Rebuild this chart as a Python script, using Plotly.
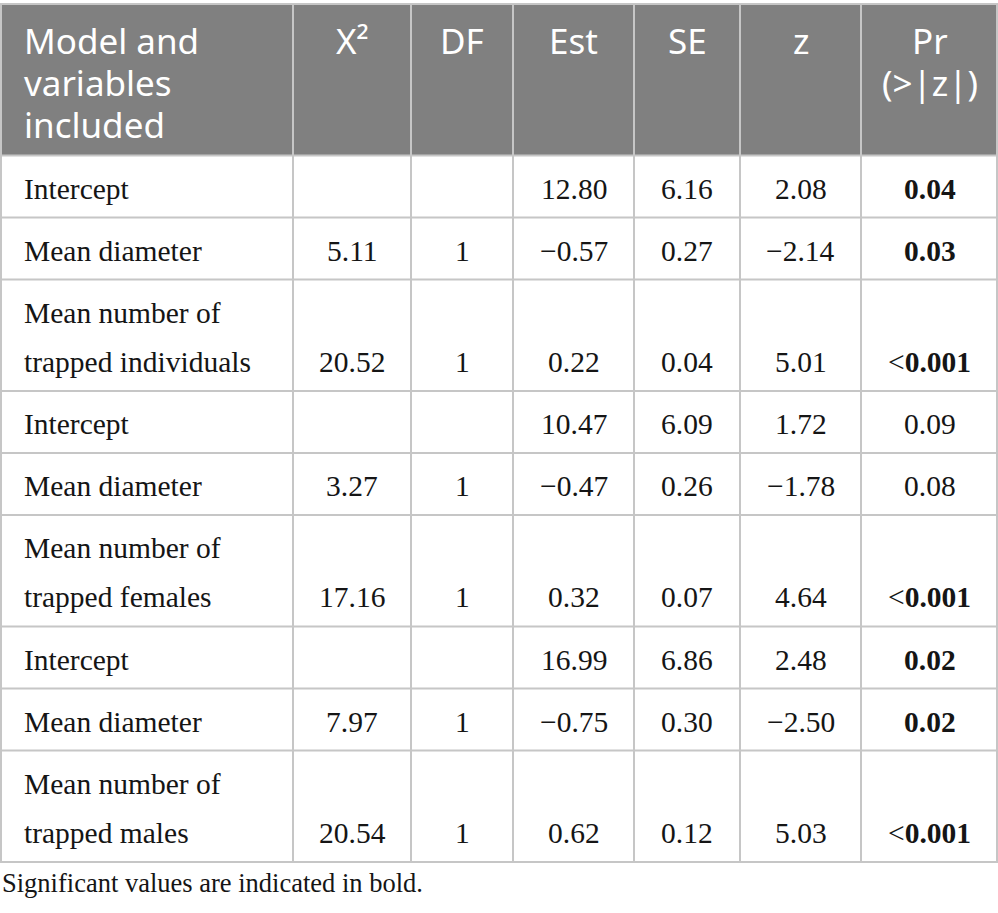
import plotly.graph_objects as go

# ---------------- data ----------------
header = ["Model and\nvariables\nincluded", "X\u00b2", "DF", "Est", "SE", "z", "Pr\n(>|z|)"]
variables = [
    "Intercept", "Mean diameter", "Mean number of\ntrapped individuals",
    "Intercept", "Mean diameter", "Mean number of\ntrapped females",
    "Intercept", "Mean diameter", "Mean number of\ntrapped males",
]
chi2 = [None, 5.11, 20.52, None, 3.27, 17.16, None, 7.97, 20.54]
df_vals = [None, 1, 1, None, 1, 1, None, 1, 1]
est = [12.80, -0.57, 0.22, 10.47, -0.47, 0.32, 16.99, -0.75, 0.62]
se = [6.16, 0.27, 0.04, 6.09, 0.26, 0.07, 6.86, 0.30, 0.12]
zval = [2.08, -2.14, 5.01, 1.72, -1.78, 4.64, 2.48, -2.50, 5.03]
pr = ["0.04", "0.03", "<0.001", "0.09", "0.08", "<0.001", "0.02", "0.02", "<0.001"]
significant = [True, True, True, False, False, True, True, True, True]
footnote = "Significant values are indicated in bold."

# ---------------- layout constants ----------------
W, H = 998, 913
col_edges = [0, 293, 411, 513, 634, 740, 861, 998]
table_top = 4
header_h = 151.5
single_h = 62
double_h = 111.5
line_gap = 49
hdr_line_gap = 42
hdr_first = 36
left_pad = 22
HEADER_BG = "#808080"
GRID = "#c6c6c6"
TEXT = "#151515"
BODY_FONT = "Liberation Serif"
HEAD_FONT = "Noto Sans"
BODY_SIZE = 29.5
FOOT_SIZE = 26.5
HEAD_SIZE = 35


def fmt(v, nd=2):
    if v is None:
        return ""
    if isinstance(v, int):
        return str(v)
    s = f"{v:.{nd}f}"
    return s.replace("-", "\u2212")


def fmt_pr(s, bold):
    if not bold:
        return s.replace("<", "&lt;")
    if s.startswith("<"):
        return "&lt;<b>" + s[1:] + "</b>"
    return "<b>" + s + "</b>"


columns = [
    variables,
    [fmt(v) for v in chi2],
    [fmt(v) for v in df_vals],
    [fmt(v) for v in est],
    [fmt(v) for v in se],
    [fmt(v) for v in zval],
    [fmt_pr(p, b) for p, b in zip(pr, significant)],
]

# row geometry
row_heights = [double_h if "\n" in v else single_h for v in variables]
row_tops = []
y = table_top + header_h
for h in row_heights:
    row_tops.append(y)
    y += h
table_bottom = y

fig = go.Figure()
fig.add_trace(go.Scatter(x=[0], y=[0], mode="markers", marker=dict(opacity=0),
                         hoverinfo="skip", showlegend=False))

shapes = []
# header background
shapes.append(dict(type="rect", xref="x", yref="y", x0=0, x1=W, y0=table_top,
                   y1=table_top + header_h, fillcolor=HEADER_BG, line=dict(width=0), layer="below"))
# horizontal lines
hlines = [table_top, table_top + header_h] + [t + h for t, h in zip(row_tops, row_heights)]
for yy in hlines:
    shapes.append(dict(type="line", xref="x", yref="y", x0=0, x1=W, y0=yy, y1=yy,
                       line=dict(color=GRID, width=2)))
# vertical lines
for xx in col_edges:
    xx2 = min(max(xx, 1), W - 1)
    shapes.append(dict(type="line", xref="x", yref="y", x0=xx2, x1=xx2, y0=table_top, y1=table_bottom,
                       line=dict(color=GRID, width=2)))

annotations = []


def add_text(txt, x, y, xanchor, family, size, color):
    annotations.append(dict(text=txt, x=x, y=y, xref="x", yref="y", xanchor=xanchor,
                            yanchor="middle", showarrow=False,
                            font=dict(family=family, size=size, color=color)))


# header texts
for ci, h in enumerate(header):
    lines = h.split("\n")
    for li, ln in enumerate(lines):
        yy = table_top + hdr_first + li * hdr_line_gap
        if ci == 0:
            add_text(ln, left_pad, yy, "left", HEAD_FONT, HEAD_SIZE, "white")
        else:
            add_text(ln, (col_edges[ci] + col_edges[ci + 1]) / 2, yy, "center", HEAD_FONT, HEAD_SIZE, "white")

# body texts
for ri, (top, h) in enumerate(zip(row_tops, row_heights)):
    mid = top + h / 2 + 2
    two = "\n" in variables[ri]
    for ci, col in enumerate(columns):
        txt = col[ri]
        if txt == "":
            continue
        if ci == 0:
            lines = txt.split("\n")
            if len(lines) == 2:
                add_text(lines[0], left_pad, mid - line_gap / 2, "left", BODY_FONT, BODY_SIZE, TEXT)
                add_text(lines[1], left_pad, mid + line_gap / 2, "left", BODY_FONT, BODY_SIZE, TEXT)
            else:
                add_text(txt, left_pad, mid, "left", BODY_FONT, BODY_SIZE, TEXT)
        else:
            yy = mid + line_gap / 2 if two else mid
            add_text(txt, (col_edges[ci] + col_edges[ci + 1]) / 2, yy, "center", BODY_FONT, BODY_SIZE, TEXT)

# footnote
add_text(footnote, 0, table_bottom + 21, "left", BODY_FONT, FOOT_SIZE, TEXT)

fig.update_layout(
    width=W, height=H,
    margin=dict(l=0, r=0, t=0, b=0),
    paper_bgcolor="white", plot_bgcolor="white",
    xaxis=dict(range=[0, W], visible=False, fixedrange=True),
    yaxis=dict(range=[H, 0], visible=False, fixedrange=True),
    shapes=shapes, annotations=annotations,
    showlegend=False,
)

fig.write_html("out.html", config=dict(displayModeBar=False),
               post_script="document.body.style.margin='0px';document.body.style.overflow='hidden';")
